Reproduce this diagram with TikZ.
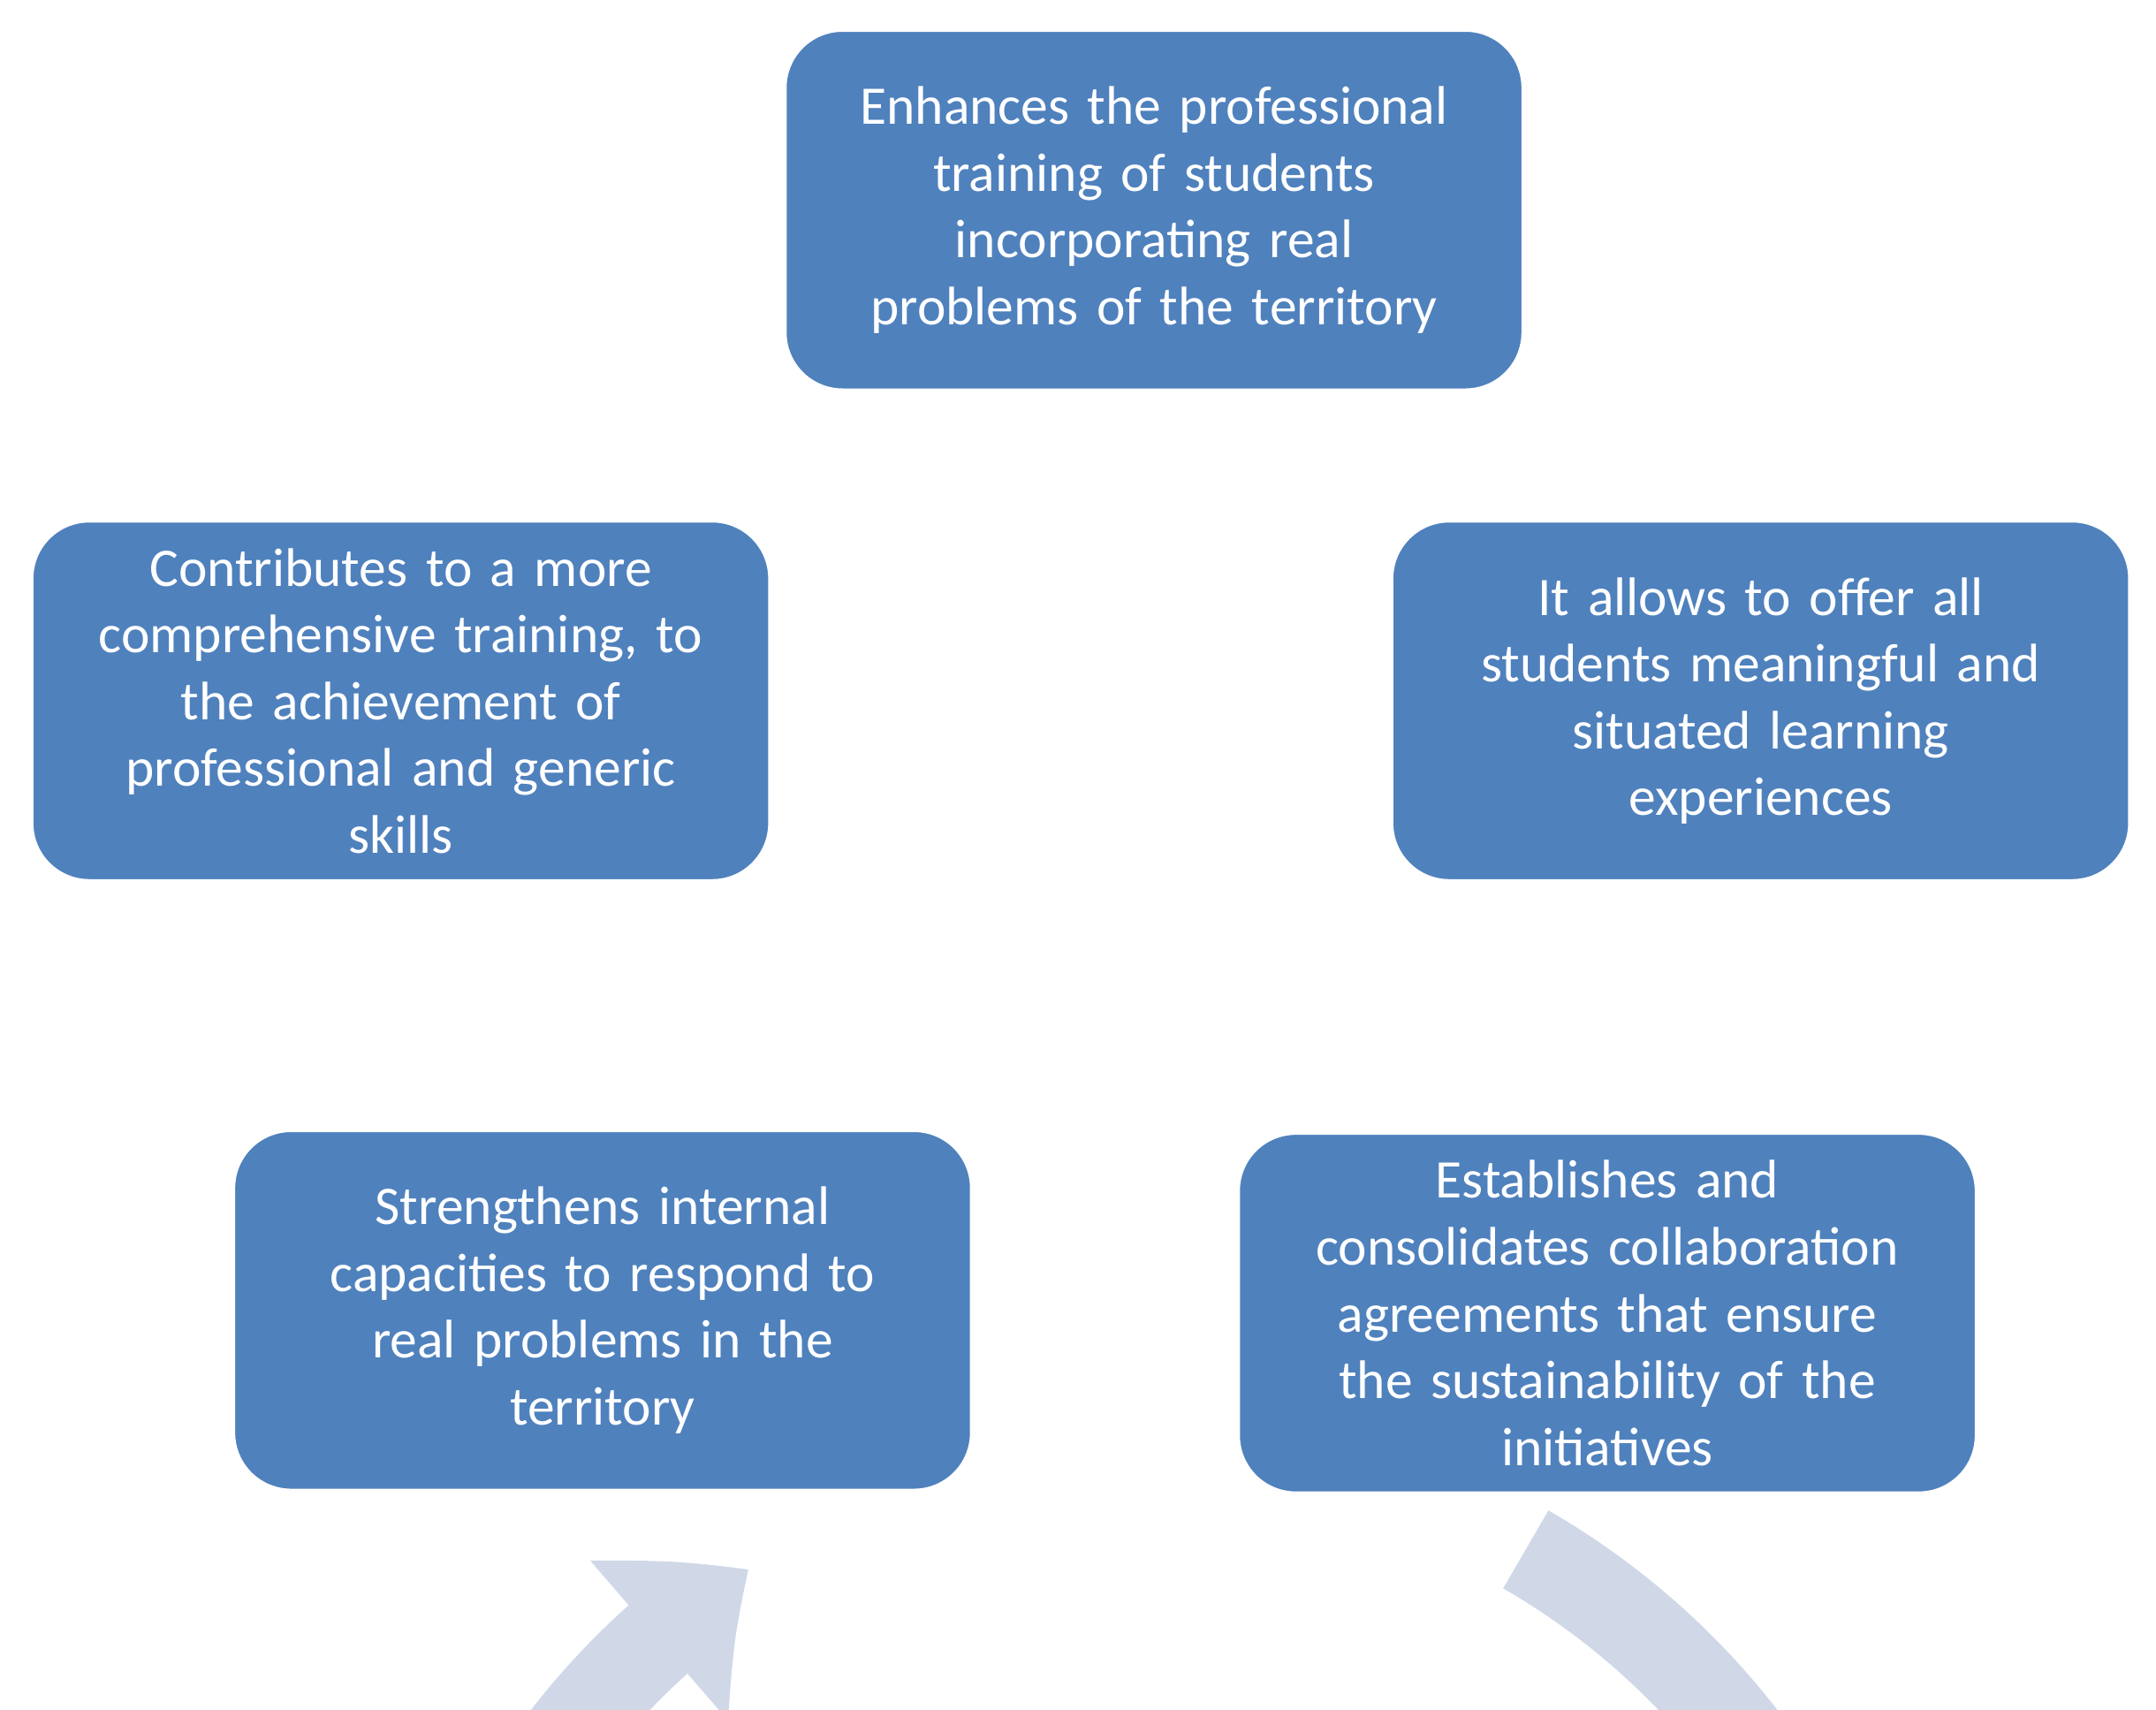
\documentclass[tikz,border=0pt]{standalone}
\usepackage{fontspec}
\setmainfont{Carlito}
\usetikzlibrary{arrows.meta,bending}
\definecolor{boxblue}{HTML}{4F81BD}
\definecolor{ringc}{HTML}{D0D8E8}
\tikzset{card/.style={draw=white,line width=1pt,fill=boxblue,rounded corners=0.65cm,minimum width=8.35cm,minimum height=4.07cm,text width=8cm,align=center,text=white,font=\fontsize{17.5}{21.5}\selectfont}}
\begin{document}
\begin{tikzpicture}[x=0.01564cm,y=-0.01564cm]
\useasboundingbox (0,0) rectangle (1560,1237);
\coordinate (c) at (835,655);
\draw[ringc,line width=1.02cm,-{Triangle[length=1.3cm,width=2.3cm,bend]}] ([shift={(60:538)}]c) arc[start angle=-60,end angle=237,radius=538];
\node[card] (t) at (835,152) {Enhances the professional\\training of students\\incorporating real\\problems of the territory};
\node[card] (r) at (1274,507) {It allows to offer all\\students meaningful and\\situated learning\\experiences};
\node[card] (br) at (1163,950) {Establishes and\\consolidates collaboration\\agreements that ensure\\the sustainability of the\\initiatives};
\node[card] (bl) at (436,948) {Strengthens internal\\capacities to respond to\\real problems in the\\territory};
\node[card] (l) at (290,507) {Contributes to a more\\comprehensive training, to\\the achievement of\\professional and generic\\skills};
\end{tikzpicture}
\end{document}
